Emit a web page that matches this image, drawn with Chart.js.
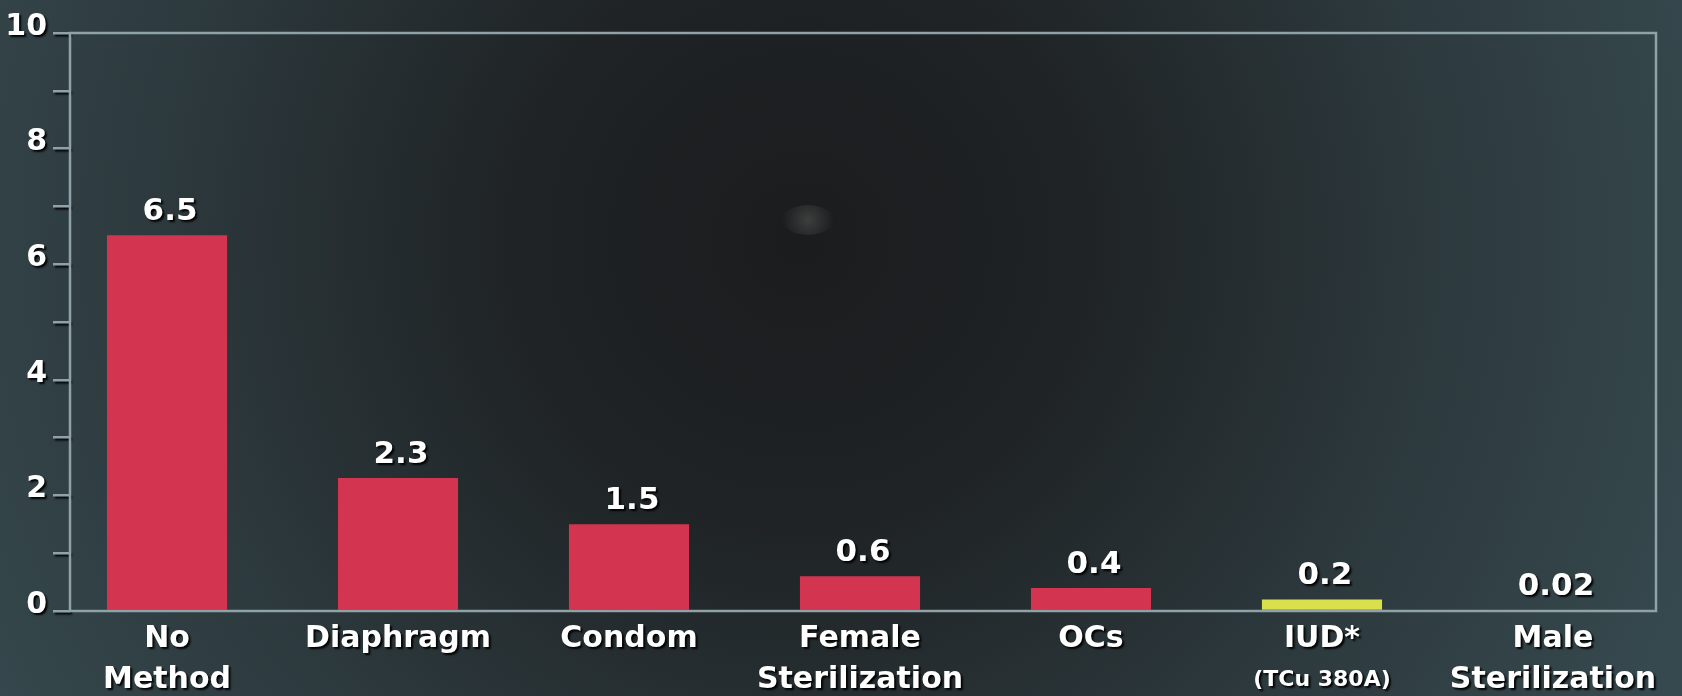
<!DOCTYPE html>
<html>
<head>
<meta charset="utf-8">
<script src="https://cdn.jsdelivr.net/npm/chart.js@4.4.0/dist/chart.umd.min.js"></script>
<style>
html, body { margin: 0; padding: 0; background: #263236; }
#wrap { width: 1682px; height: 696px; position: relative; }
</style>
</head>
<body>
<div id="wrap"><canvas id="chart"></canvas></div>
<script>
// categories (multi-line), values and their printed labels
const categories = [
    ["No", "Method"],
    ["Diaphragm"],
    ["Condom"],
    ["Female", "Sterilization"],
    ["OCs"],
    ["IUD*", "(TCu 380A)"],
    ["Male", "Sterilization"]
];
const values = [6.5, 2.3, 1.5, 0.6, 0.4, 0.2, 0.02];
const valueLabels = ["6.5", "2.3", "1.5", "0.6", "0.4", "0.2", "0.02"];
const yTicks = [0, 2, 4, 6, 8, 10];

const RED = "#d3344f";
const YELLOW = "#d9e04c";
const FRAME = "#8ea2a7";
const FONT = "'DejaVu Sans', sans-serif";

const barColors = categories.map((c, i) => (c[0].indexOf("IUD") === 0 ? YELLOW : RED));

function shadowOn(ctx) {
    ctx.shadowColor = "rgba(0,0,0,0.95)";
    ctx.shadowOffsetX = 2;
    ctx.shadowOffsetY = 2;
    ctx.shadowBlur = 2;
}
function shadowOff(ctx) {
    ctx.shadowColor = "rgba(0,0,0,0)";
    ctx.shadowOffsetX = 0;
    ctx.shadowOffsetY = 0;
    ctx.shadowBlur = 0;
}

// background + frame + text labels
const decor = {
    id: "decor",
    beforeDraw(chart) {
        const ctx = chart.ctx;
        const w = chart.width, h = chart.height;
        ctx.save();
        const g = ctx.createRadialGradient(800, 240, 0, 800, 240, 950);
        g.addColorStop(0, "#1b1c1e");
        g.addColorStop(0.3, "#1f2325");
        g.addColorStop(0.65, "#2c383c");
        g.addColorStop(1, "#36494e");
        ctx.fillStyle = g;
        ctx.fillRect(0, 0, w, h);
        // faint light spot
        const s = ctx.createRadialGradient(808, 220, 0, 808, 220, 26);
        s.addColorStop(0, "rgba(70,70,70,0.8)");
        s.addColorStop(1, "rgba(70,70,70,0)");
        ctx.fillStyle = s;
        ctx.beginPath();
        ctx.ellipse(808, 220, 26, 15, 0, 0, Math.PI * 2);
        ctx.fill();
        ctx.restore();
        shadowOn(ctx);
    },
    beforeDatasetsDraw(chart) {
        shadowOff(chart.ctx);
    },
    afterDatasetsDraw(chart) {
        const ctx = chart.ctx;
        const a = chart.chartArea;
        const xs = chart.scales.x;
        const meta = chart.getDatasetMeta(0);
        ctx.save();
        // frame
        ctx.strokeStyle = FRAME;
        ctx.lineWidth = 2.5;
        ctx.strokeRect(a.left, a.top, a.right - a.left, a.bottom - a.top);
        shadowOn(ctx);
        ctx.fillStyle = "#ffffff";
        ctx.textAlign = "center";
        // value labels
        ctx.textBaseline = "alphabetic";
        ctx.font = "bold 31px " + FONT;
        meta.data.forEach((bar, i) => {
            ctx.fillText(valueLabels[i], bar.x + 3, bar.y - 15);
        });
        // category labels
        ctx.textBaseline = "middle";
        categories.forEach((lines, i) => {
            const x = xs.getPixelForValue(i);
            lines.forEach((line, j) => {
                ctx.font = (line.charAt(0) === "(" ? "bold 22px " : "bold 30px ") + FONT;
                ctx.fillText(line, x, a.bottom + 28 + j * 41);
            });
        });
        ctx.restore();
    }
};

const ctx = document.getElementById("chart").getContext("2d");
const chart = new Chart(ctx, {
    type: "bar",
    data: {
        datasets: [{
            data: values.map((v, i) => ({ x: i, y: v })),
            backgroundColor: barColors,
            borderWidth: 0,
            barPercentage: 1,
            categoryPercentage: 0.52
        }]
    },
    options: {
        responsive: true,
        maintainAspectRatio: false,
        animation: false,
        layout: { padding: { top: 33, right: 26, left: 0, bottom: 0 } },
        plugins: {
            legend: { display: false },
            tooltip: { enabled: false }
        },
        scales: {
            x: {
                type: "linear",
                offset: false,
                min: -0.42,
                max: 6.446,
                afterBuildTicks: (scale) => {
                    scale.ticks = categories.map((c, i) => ({ value: i }));
                },
                afterFit: (scale) => { scale.height = 85; },
                ticks: { display: false },
                grid: { display: false },
                border: { display: false }
            },
            y: {
                min: 0,
                max: 10,
                afterFit: (scale) => { scale.width = 70; },
                ticks: {
                    stepSize: 1,
                    color: "#ffffff",
                    font: { family: FONT, size: 30, weight: "bold" },
                    padding: 6,
                    labelOffset: -6,
                    callback: (v) => (yTicks.indexOf(v) >= 0 ? String(v) : "")
                },
                grid: {
                    display: true,
                    drawOnChartArea: false,
                    drawTicks: true,
                    tickLength: 17,
                    color: FRAME,
                    lineWidth: 2.5
                },
                border: { display: false }
            }
        }
    },
    plugins: [decor]
});
</script>
</body>
</html>
